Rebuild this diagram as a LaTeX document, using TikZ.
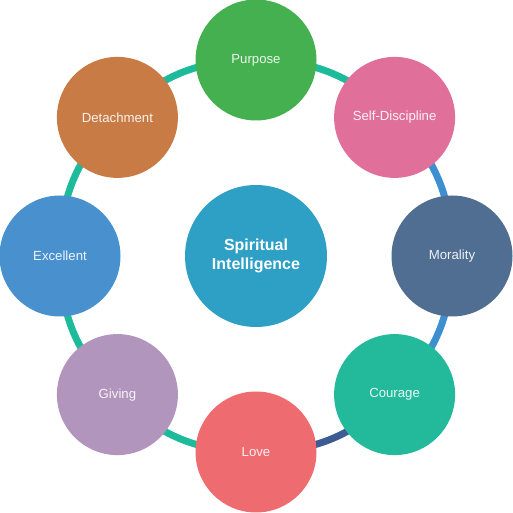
\documentclass[tikz,border=0pt]{standalone}
\usepackage{fontspec}
\setmainfont{Liberation Sans}
\usetikzlibrary{backgrounds,calc}
\definecolor{cPurpose}{HTML}{44B050}
\definecolor{cSelf}{HTML}{E0709A}
\definecolor{cMoral}{HTML}{506E92}
\definecolor{cCourage}{HTML}{22BA9B}
\definecolor{cLove}{HTML}{EE6B70}
\definecolor{cGiving}{HTML}{B295BC}
\definecolor{cExcel}{HTML}{4890CE}
\definecolor{cDetach}{HTML}{C87B45}
\definecolor{cCenter}{HTML}{2EA0C6}
\definecolor{lTeal}{HTML}{1DBA9B}
\definecolor{lBlue}{HTML}{3D8FD0}
\definecolor{lNavy}{HTML}{3D5C94}
\tikzset{
  petal/.style={circle, minimum size=121pt, inner sep=0pt, text=white, text opacity=0.9, font=\fontsize{13.2}{15}\selectfont},
  hub/.style={circle, minimum size=142pt, inner sep=0pt, text=white, align=center, font=\fontsize{16}{19}\selectfont\bfseries},
  link/.style={line width=7pt, bend left=22.5}
}
\begin{document}
\begin{tikzpicture}[x=1pt,y=1pt]
\useasboundingbox (0,0) rectangle (512,513);
\coordinate (O) at (256,257);
\node[hub, fill=cCenter] (hub) at (O) {Spiritual\\Intelligence};
\node[petal, fill=cPurpose] (p) at ($(O)+(90:196)$) {Purpose};
\node[petal, fill=cSelf] (s) at ($(O)+(45:196)$) {Self-Discipline};
\node[petal, fill=cMoral] (m) at ($(O)+(0:196)$) {Morality};
\node[petal, fill=cCourage] (c) at ($(O)+(-45:196)$) {Courage};
\node[petal, fill=cLove] (l) at ($(O)+(-90:196)$) {Love};
\node[petal, fill=cGiving] (g) at ($(O)+(-135:196)$) {Giving};
\node[petal, fill=cExcel] (e) at ($(O)+(180:196)$) {Excellent};
\node[petal, fill=cDetach] (d) at ($(O)+(135:196)$) {Detachment};
\begin{scope}[on background layer]
\draw[link, lTeal] (p.center) to (s.center);
\draw[link, lBlue] (s.center) to (m.center);
\draw[link, lBlue] (m.center) to (c.center);
\draw[link, lNavy] (c.center) to (l.center);
\draw[link, lTeal] (l.center) to (g.center);
\draw[link, lTeal] (g.center) to (e.center);
\draw[link, lTeal] (e.center) to (d.center);
\draw[link, lTeal] (d.center) to (p.center);
\end{scope}
\end{tikzpicture}
\end{document}
